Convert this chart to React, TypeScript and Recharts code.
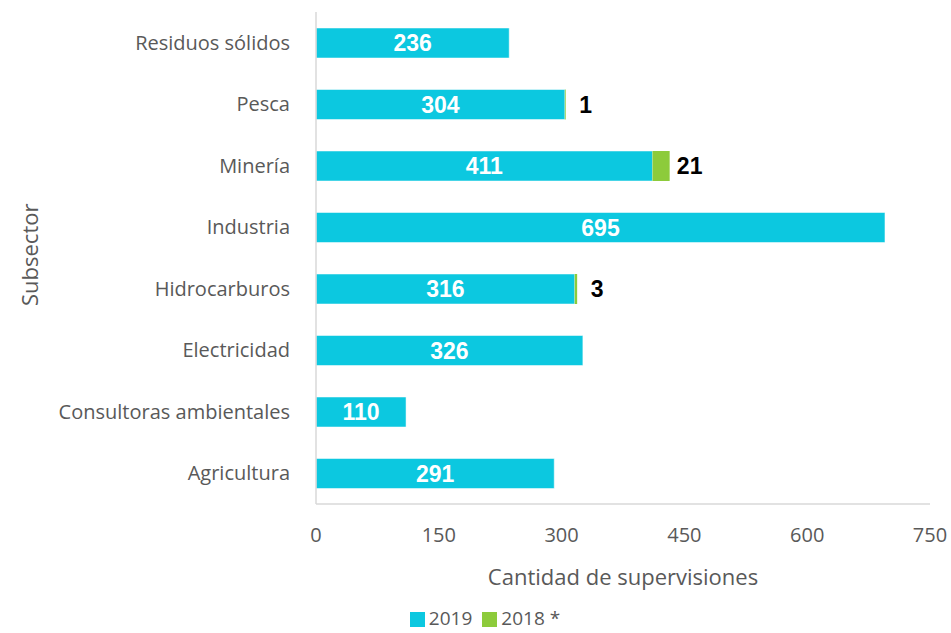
import React from "react";
import { Bar, BarChart, LabelList, Legend, XAxis, YAxis } from "recharts";

const subsectors = [
  "Residuos sólidos",
  "Pesca",
  "Minería",
  "Industria",
  "Hidrocarburos",
  "Electricidad",
  "Consultoras ambientales",
  "Agricultura",
];
const values2019 = [236, 304, 411, 695, 316, 326, 110, 291];
const values2018 = [0, 1, 21, 0, 3, 0, 0, 0];
const xTicks = [0, 150, 300, 450, 600, 750];

const CYAN = "#0cc8e0";
const GREEN = "#8dcb3b";
const FONT = "Open Sans, sans-serif";
const BOLD = "Liberation Sans, Arial, sans-serif";

const data = subsectors.map((s, i) => ({
  name: s,
  y2019: values2019[i],
  y2018: values2018[i],
}));

function OutsideLabel(props: any) {
  const { x, y, width, height, value } = props;
  if (!value) return null;
  return (
    <text
      x={x + width + 20}
      y={y + height / 2}
      dy={8}
      textAnchor="middle"
      fill="#000"
      fontFamily={BOLD}
      fontWeight="bold"
      fontSize={23}
    >
      {value}
    </text>
  );
}

export default function App() {
  return (
    <div style={{ position: "absolute", left: 0, top: 0, background: "#fff" }}>
      <BarChart
        width={951}
        height={633}
        data={data}
        layout="vertical"
        margin={{ top: 12, right: 21, bottom: 14, left: 20 }}
        barSize={30}
      >
        <XAxis
          type="number"
          domain={[0, 750]}
          ticks={xTicks}
          tickLine={false}
          axisLine={{ stroke: "#d9d9d9", strokeWidth: 1.5 }}
          tick={{ fill: "#595959", fontSize: 20, fontFamily: FONT }}
          tickMargin={18}
          height={93}
          label={{
            value: "Cantidad de supervisiones",
            position: "insideBottom",
            offset: 12,
            fill: "#595959",
            fontSize: 22,
            fontFamily: FONT,
          }}
        />
        <YAxis
          type="category"
          dataKey="name"
          width={296}
          tickLine={false}
          axisLine={{ stroke: "#d9d9d9", strokeWidth: 1.5 }}
          tick={{ fill: "#595959", fontSize: 20, fontFamily: FONT }}
          tickMargin={20}
          label={{
            value: "Subsector",
            angle: -90,
            position: "insideLeft",
            offset: 10,
            dy: 48,
            fill: "#595959",
            fontSize: 22,
            fontFamily: FONT,
          }}
        />
        <Legend
          verticalAlign="bottom"
          align="center"
          iconType="square"
          iconSize={15}
          itemSorter={(item: any) => (item.value === "2019" ? 0 : 1)}
          wrapperStyle={{ fontFamily: FONT, fontSize: 19, lineHeight: "22px", left: 35, top: 607 }}
          formatter={(v) => <span style={{ color: "#595959" }}>{v}</span>}
        />
        <Bar dataKey="y2019" name="2019" stackId="a" fill={CYAN} stroke="#ffffff" strokeWidth={0.5} isAnimationActive={false}>
          <LabelList
            dataKey="y2019"
            position="center"
            fill="#ffffff"
            fontFamily={BOLD}
            fontWeight="bold"
            fontSize={23}
          />
        </Bar>
        <Bar dataKey="y2018" name="2018 *" stackId="a" fill={GREEN} isAnimationActive={false}>
          <LabelList dataKey="y2018" content={OutsideLabel} />
        </Bar>
      </BarChart>
    </div>
  );
}
